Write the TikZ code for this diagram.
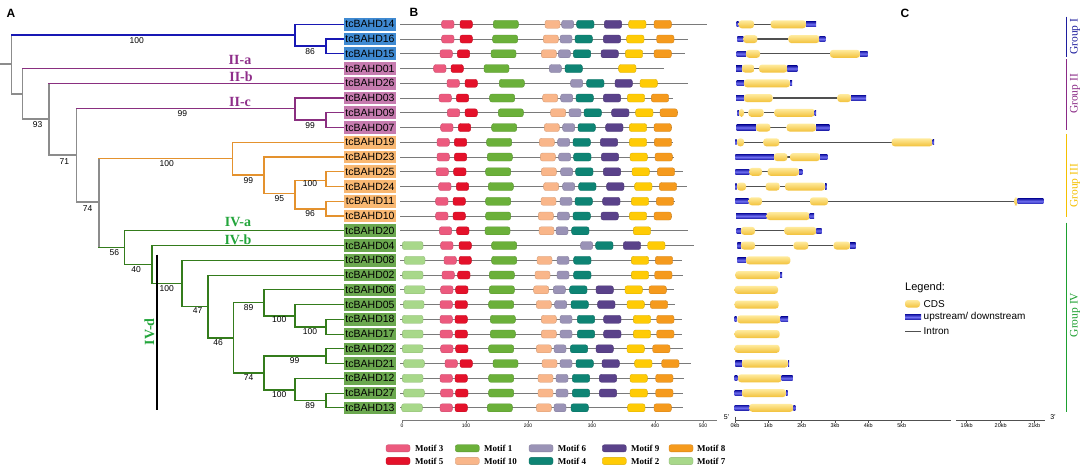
\documentclass[tikz,border=0pt]{standalone}
\usepackage{fontspec}
\setmainfont{Liberation Serif}
\setsansfont{Liberation Sans}
\definecolor{tIc}{HTML}{1818B4}
\definecolor{tIIc}{HTML}{8A2F80}
\definecolor{tIIIc}{HTML}{E4922E}
\definecolor{tIVc}{HTML}{347C1C}
\definecolor{tGc}{HTML}{8C8C8C}
\definecolor{bI}{HTML}{3F8AD2}
\definecolor{bII}{HTML}{C67BAF}
\definecolor{bIII}{HTML}{F9B872}
\definecolor{bIV}{HTML}{6BA84F}
\definecolor{txII}{HTML}{8F2E8A}
\definecolor{txIV}{HTML}{22A53A}
\definecolor{grI}{HTML}{1E1E9E}
\definecolor{grII}{HTML}{8A2A86}
\definecolor{grIII}{HTML}{F5C000}
\definecolor{grIV}{HTML}{1DA030}
\definecolor{cm1}{HTML}{6BB03A}
\definecolor{cm2}{HTML}{FFCB05}
\definecolor{cm3}{HTML}{EC5A7E}
\definecolor{cm4}{HTML}{0E8474}
\definecolor{cm5}{HTML}{E4112A}
\definecolor{cm6}{HTML}{9A93B6}
\definecolor{cm7}{HTML}{A8D88A}
\definecolor{cm8}{HTML}{F59A1D}
\definecolor{cm9}{HTML}{5A428A}
\definecolor{cm10}{HTML}{F9B68A}
\definecolor{cdsT}{HTML}{FFEB9E}
\definecolor{cdsB}{HTML}{F2C13A}
\definecolor{utrD}{HTML}{1B1BA8}
\definecolor{utrL}{HTML}{7070F2}
\definecolor{lineG}{HTML}{7A7A7A}
\definecolor{intG}{HTML}{505050}
\expandafter\def\csname wm1\endcsname{75}
\expandafter\def\csname wm2\endcsname{52}
\expandafter\def\csname wm3\endcsname{37}
\expandafter\def\csname wm4\endcsname{52}
\expandafter\def\csname wm5\endcsname{37}
\expandafter\def\csname wm6\endcsname{36}
\expandafter\def\csname wm7\endcsname{62}
\expandafter\def\csname wm8\endcsname{52}
\expandafter\def\csname wm9\endcsname{52}
\expandafter\def\csname wm10\endcsname{45}
\expandafter\def\csname hgsu\endcsname{2.6}
\expandafter\def\csname hgsc\endcsname{4}
\expandafter\def\csname hgsi\endcsname{0.55}
% motif row: y, line end (zoom units), list style/zoomx
\newcommand\mrow[3]{%
  \draw[mline] (400,#1) -- ({340+#2/3},#1);
  \foreach \s/\x in {#3}{%
    \edef\w{\csname w\s\endcsname}%
    \path[\s] ({340+\x/3},{#1-4}) rectangle ({340+(\x+\w)/3},{#1+4});}%
}
% gene structure row: y, list type/a/b
\newcommand\grow[2]{%
  \foreach \t/\a/\b in {#2}{%
    \edef\h{\csname hgs\t\endcsname}%
    \path[gs\t] ({720+\a/3},{#1-\h}) rectangle ({720+\b/3},{#1+\h});}%
}
\newcommand\hb[3]{\draw[#1] (#2 |- #3) -- (#3);}
\newcommand\vb[4]{\draw[#1] (#2 |- #3) -- (#2 |- #4);}
\begin{document}
\begin{tikzpicture}[x=1pt,y=-1pt,
  br/.style={line width=1.1pt,line cap=rect},
  tI/.style={br,draw=tIc}, tII/.style={br,draw=tIIc}, tIII/.style={br,draw=tIIIc},
  tIV/.style={br,draw=tIVc}, tG/.style={br,draw=tGc},
  lab/.style={font=\sffamily\fontsize{10.5}{12}\selectfont, minimum width=52pt, minimum height=12.6pt, inner sep=0pt},
  gI/.style={lab,fill=bI}, gII/.style={lab,fill=bII}, gIII/.style={lab,fill=bIII}, gIV/.style={lab,fill=bIV},
  bs/.style={font=\sffamily\fontsize{8.5}{10}\selectfont, inner sep=0pt},
  clade/.style={font=\bfseries\fontsize{14}{16}\selectfont, inner sep=0pt},
  grp/.style={font=\fontsize{11.5}{13}\selectfont, inner sep=0pt, rotate=90},
  panel/.style={font=\sffamily\bfseries\fontsize{12}{14}\selectfont, inner sep=0pt},
  mbase/.style={rounded corners=2.2pt, line width=0.35pt},
  m1/.style={mbase,fill=cm1,draw=cm1!85!black}, m2/.style={mbase,fill=cm2,draw=cm2!85!black},
  m3/.style={mbase,fill=cm3,draw=cm3!85!black}, m4/.style={mbase,fill=cm4,draw=cm4!85!black},
  m5/.style={mbase,fill=cm5,draw=cm5!85!black}, m6/.style={mbase,fill=cm6,draw=cm6!85!black},
  m7/.style={mbase,fill=cm7,draw=cm7!85!black}, m8/.style={mbase,fill=cm8,draw=cm8!85!black},
  m9/.style={mbase,fill=cm9,draw=cm9!85!black}, m10/.style={mbase,fill=cm10,draw=cm10!85!black},
  mline/.style={draw=lineG, line width=0.9pt},
  gsc/.style={top color=cdsT, bottom color=cdsB, rounded corners=3pt},
  gsu/.style={top color=utrD, bottom color=utrD, middle color=utrL},
  gsi/.style={fill=intG},
  axis/.style={draw=lineG, line width=1pt},
  tick/.style={font=\sffamily\fontsize{5}{6}\selectfont, inner sep=0pt},
  leg/.style={font=\bfseries\fontsize{9}{10}\selectfont, inner sep=0pt, anchor=west},
  cleg/.style={font=\sffamily\fontsize{10}{12}\selectfont, inner sep=0pt, anchor=west}]
\useasboundingbox (0,0) rectangle (1084,473);
\fill[white] (0,0) rectangle (1084,473);

% ---------- panel letters
\node[panel] (pA) at (11,13) {A};
\node[panel] (pB) at (414,12) {B};
\node[panel] (pC) at (905,13) {C};

% ---------- gene labels
\foreach \n/\i/\g in {14/0/I,16/1/I,15/2/I,01/3/II,26/4/II,03/5/II,09/6/II,07/7/II,
  19/8/III,23/9/III,25/10/III,24/11/III,11/12/III,10/13/III,
  20/14/IV,04/15/IV,08/16/IV,02/17/IV,06/18/IV,05/19/IV,18/20/IV,17/21/IV,
  22/22/IV,21/23/IV,12/24/IV,27/25/IV,13/26/IV}
  \node[g\g] (g\n) at (370,{24.3+14.75*\i}) {tcBAHD\n};

% ---------- internal tree nodes
\coordinate (R0) at (0,64);
\coordinate (R) at (11.7,64);
\coordinate (A1) at (295,35);
\coordinate (A2) at (326,46);
\coordinate (B1) at (22.7,94);
\coordinate (B2) at (49,119);
\coordinate (B3) at (76.5,155);
\coordinate (C1) at (295,108.7);
\coordinate (C2) at (326,120);
\coordinate (B4) at (99,202);
\coordinate (D1) at (232.7,158.7);
\coordinate (D2) at (264,175);
\coordinate (D3) at (295,193.7);
\coordinate (D4) at (326,180.7);
\coordinate (D5) at (326,209);
\coordinate (E1) at (124.7,247.7);
\coordinate (E2) at (152,264.3);
\coordinate (E3) at (182,283.3);
\coordinate (E4) at (208,306.7);
\coordinate (E5) at (233.7,338);
\coordinate (E6) at (264,302.7);
\coordinate (E7) at (295,316);
\coordinate (E8) at (326,327);
\coordinate (E9) at (264,373);
\coordinate (E10) at (326,356);
\coordinate (E11) at (295,390);
\coordinate (E12) at (326,400.3);

% ---------- tree branches
\draw[tG] (R0) -- (R);
\vb{tG}{R}{A1}{B1}
\hb{tI}{R}{A1} \hb{tG}{R}{B1}
\vb{tI}{A1}{g14}{A2} \hb{tI}{A1}{g14} \hb{tI}{A1}{A2}
\vb{tI}{A2}{g16}{g15} \hb{tI}{A2}{g16} \hb{tI}{A2}{g15}
\vb{tG}{B1}{g01}{B2} \hb{tII}{B1}{g01} \hb{tG}{B1}{B2}
\vb{tG}{B2}{g26}{B3} \hb{tII}{B2}{g26} \hb{tG}{B2}{B3}
\vb{tG}{B3}{C1}{B4} \hb{tII}{B3}{C1} \hb{tG}{B3}{B4}
\vb{tII}{C1}{g03}{C2} \hb{tII}{C1}{g03} \hb{tII}{C1}{C2}
\vb{tII}{C2}{g09}{g07} \hb{tII}{C2}{g09} \hb{tII}{C2}{g07}
\vb{tG}{B4}{D1}{E1} \hb{tIII}{B4}{D1} \hb{tIV}{B4}{E1}
\vb{tIII}{D1}{g19}{D2} \hb{tIII}{D1}{g19} \hb{tIII}{D1}{D2}
\vb{tIII}{D2}{g23}{D3} \hb{tIII}{D2}{g23} \hb{tIII}{D2}{D3}
\vb{tIII}{D3}{D4}{D5} \hb{tIII}{D3}{D4} \hb{tIII}{D3}{D5}
\vb{tIII}{D4}{g25}{g24} \hb{tIII}{D4}{g25} \hb{tIII}{D4}{g24}
\vb{tIII}{D5}{g11}{g10} \hb{tIII}{D5}{g11} \hb{tIII}{D5}{g10}
\vb{tIV}{E1}{g20}{E2} \hb{tIV}{E1}{g20} \hb{tIV}{E1}{E2}
\vb{tIV}{E2}{g04}{E3} \hb{tIV}{E2}{g04} \hb{tIV}{E2}{E3}
\vb{tIV}{E3}{g08}{E4} \hb{tIV}{E3}{g08} \hb{tIV}{E3}{E4}
\vb{tIV}{E4}{g02}{E5} \hb{tIV}{E4}{g02} \hb{tIV}{E4}{E5}
\vb{tIV}{E5}{E6}{E9} \hb{tIV}{E5}{E6} \hb{tIV}{E5}{E9}
\vb{tIV}{E6}{g06}{E7} \hb{tIV}{E6}{g06} \hb{tIV}{E6}{E7}
\vb{tIV}{E7}{g05}{E8} \hb{tIV}{E7}{g05} \hb{tIV}{E7}{E8}
\vb{tIV}{E8}{g18}{g17} \hb{tIV}{E8}{g18} \hb{tIV}{E8}{g17}
\vb{tIV}{E9}{E10}{E11} \hb{tIV}{E9}{E10} \hb{tIV}{E9}{E11}
\vb{tIV}{E10}{g22}{g21} \hb{tIV}{E10}{g22} \hb{tIV}{E10}{g21}
\vb{tIV}{E11}{g12}{E12} \hb{tIV}{E11}{g12} \hb{tIV}{E11}{E12}
\vb{tIV}{E12}{g27}{g13} \hb{tIV}{E12}{g27} \hb{tIV}{E12}{g13}

% ---------- bootstrap values
\foreach \x/\y/\v in {136.7/40.3/100, 310/51.7/86, 37.7/124.7/93, 182.3/113.7/99,
  310/125.3/99, 64.3/161.3/71, 166.7/163.3/100, 248.3/180.3/99, 310/184/100,
  279.3/199/95, 310/213.3/96, 87.7/208.7/74, 114.3/252.7/56, 136/269.3/40,
  166.7/288.3/100, 197.7/311/47, 248.7/307.7/89, 279.3/320/100, 310/331.7/100,
  218/342.7/46, 294.7/361/99, 248.7/377.7/74, 279.3/394.3/100, 310/405.3/89}
  \node[bs] at (\x,\y) {\v};

% ---------- clade labels
\node[clade,text=txII] (la) at (240,59.5) {II-a};
\node[clade,text=txII] (lb) at (241,77) {II-b};
\node[clade,text=txII] (lc) at (240,101.7) {II-c};
\node[clade,text=txIV] (la4) at (238,221.7) {IV-a};
\node[clade,text=txIV] (lb4) at (238,239.3) {IV-b};
\node[clade,text=txIV,rotate=90] (ld4) at (149.3,331.7) {IV-d};
\coordinate (dT) at (157,254.7);
\coordinate (dB) at (157,409.7);
\draw[line width=1.2pt] (dT) -- (dB);

% ---------- panel B motifs
\mrow{24.3}{1100}{m3/305,m5/360,m1/460,m10/615,m6/665,m4/710,m9/793,m2/866,m8/942}
\mrow{39.05}{1043}{m3/305,m5/360,m1/458,m10/610,m6/660,m4/705,m9/790,m2/860,m8/950}
\mrow{53.8}{1035}{m3/300,m5/352,m1/453,m10/604,m6/655,m4/700,m9/783,m2/856,m8/942}
\mrow{68.55}{973}{m3/281,m5/333,m1/432,m6/628,m4/675,m2/836}
\mrow{83.3}{1043}{m3/321,m5/375,m1/478,m6/692,m4/740,m9/825,m2/900}
\mrow{98.05}{1000}{m3/297,m5/349,m1/449,m10/608,m6/662,m4/708,m9/790,m2/862,m8/934}
\mrow{112.8}{1015}{m3/322,m5/375,m1/475,m10/632,m6/687,m4/732,m9/815,m2/887,m8/960}
\mrow{127.55}{997}{m3/302,m5/355,m1/455,m10/613,m6/668,m4/714,m9/797,m2/868,m8/942}
\mrow{142.3}{1000}{m3/291,m5/343,m1/440,m10/598,m6/653,m4/699,m9/781,m2/868,m8/943}
\mrow{157.05}{1003}{m3/291,m5/343,m1/442,m10/601,m6/656,m4/701,m9/784,m2/870,m8/945}
\mrow{171.8}{1030}{m3/288,m5/341,m1/437,m10/604,m6/662,m4/707,m9/790,m2/876,m8/952}
\mrow{186.55}{1040}{m3/296,m5/349,m1/445,m10/611,m6/668,m4/716,m9/800,m2/884,m8/958}
\mrow{201.3}{1005}{m3/287,m5/339,m1/437,m10/603,m6/660,m4/705,m9/788,m2/874,m8/949}
\mrow{216.05}{995}{m3/287,m5/339,m1/437,m10/595,m6/652,m4/699,m9/783,m2/868,m8/942}
\mrow{230.8}{1045}{m3/298,m5/350,m1/435,m10/597,m6/648,m4/695,m2/880}
\mrow{245.55}{1062}{m7/187,m3/302,m5/357,m1/455,m6/722,m4/767,m9/850,m2/923}
\mrow{260.3}{1025}{m7/193,m3/312,m5/357,m1/455,m10/591,m6/651,m4/701,m2/874,m8/946}
\mrow{275.05}{1028}{m7/187,m3/306,m5/353,m1/448,m10/585,m6/651,m4/701,m2/874,m8/944}
\mrow{289.8}{1003}{m7/193,m3/302,m5/347,m1/448,m10/581,m6/640,m4/689,m9/768,m2/855,m8/927}
\mrow{304.55}{1006}{m7/190,m3/300,m5/345,m1/446,m10/589,m6/644,m4/693,m9/773,m2/861,m8/931}
\mrow{319.3}{1025}{m7/187,m3/300,m5/345,m1/451,m10/604,m6/660,m4/712,m9/791,m2/880,m8/950}
\mrow{334.05}{1025}{m7/187,m3/300,m5/345,m1/451,m10/604,m6/660,m4/712,m9/791,m2/880,m8/950}
\mrow{348.8}{1030}{m7/187,m3/302,m5/347,m1/446,m10/589,m6/642,m4/691,m9/768,m2/861,m8/938}
\mrow{363.55}{1053}{m7/191,m3/315,m5/360,m1/459,m10/606,m6/660,m4/708,m9/786,m2/884,m8/965}
\mrow{378.3}{1033}{m7/187,m3/300,m5/345,m1/446,m10/594,m6/648,m4/697,m9/778,m2/870,m8/947}
\mrow{393.05}{1030}{m7/191,m3/302,m5/347,m1/446,m10/594,m6/648,m4/697,m9/778,m2/870,m8/947}
\mrow{407.8}{1030}{m7/185,m3/300,m5/345,m1/442,m10/589,m6/642,m4/693,m2/863,m8/942}

% panel B axis
\draw[axis] (402,420) -- (717,420);
\foreach \x/\l in {402/0,466/100,528/200,592/300,655/400,703/500}{
  \draw[axis,line width=0.6pt] (\x,420) -- (\x,422.5);
  \node[tick] at (\x,426) {\l};}

% motif legend
\foreach \s/\bx/\tx/\yy/\lab in {m3/386/415/448.3/Motif 3, m1/455.3/484/448.3/Motif 1,
  m6/529/557.7/448.3/Motif 6, m9/602.3/631/448.3/Motif 9, m8/669/697/448.3/Motif 8,
  m5/386/415/461/Motif 5, m10/455.3/484/461/Motif 10, m4/529/557.7/461/Motif 4,
  m2/602.3/631/461/Motif 2, m7/669/697/461/Motif 7}{
  \path[\s] (\bx,{\yy-3.6}) rectangle ({\bx+24},{\yy+3.6});
  \node[leg] at (\tx,\yy) {\lab};}

% ---------- panel C gene structures
\grow{24.3}{i/102/152, u/50/56, c/56/102, c/152/258, u/258/288}
\grow{39.05}{i/112/205, u/52/70, c/70/112, c/205/298, u/298/316}
\grow{53.8}{i/120/330, u/50/78, c/78/120, c/330/420, u/420/443}
\grow{68.55}{i/103/117, u/48/66, c/66/103, c/117/202, u/202/232}
\grow{83.3}{u/50/72, c/72/210, u/210/216}
\grow{98.05}{i/158/352, u/48/72, c/72/158, c/352/393, u/393/438}
\grow{112.8}{i/72/85, i/131/163, u/52/57, c/57/72, c/85/131, c/163/284, u/284/288}
\grow{127.55}{i/151/200, u/50/108, c/108/151, c/200/288, u/288/328}
\grow{142.3}{i/72/130, i/178/515, u/46/50, c/51/72, c/130/178, c/515/638, u/638/642}
\grow{157.05}{i/202/210, u/46/162, c/162/202, c/210/300, u/300/322}
\grow{171.8}{i/126/143, u/46/88, c/88/126, c/143/237, u/237/247}
\grow{186.55}{i/78/137, i/179/195, u/46/50, c/51/78, c/137/179, c/195/315, u/315/320}
\grow{201.3}{i/126/270, i/324/882, u/46/86, c/86/126, c/270/324, c/882/893, u/893/970}
\grow{216.05}{u/48/140, c/140/269, u/269/282}
\grow{230.8}{i/105/193, u/50/63, c/63/105, c/193/289, u/289/305}
\grow{245.55}{i/105/221, i/265/341, u/52/63, c/63/105, c/221/265, c/341/390, u/390/407}
\grow{260.3}{u/52/78, c/78/211}
\grow{275.05}{c/46/180, u/180/186}
\grow{289.8}{c/44/174}
\grow{304.55}{c/44/176}
\grow{319.3}{u/44/50, c/52/182, u/182/204}
\grow{334.05}{c/44/179}
\grow{348.8}{c/44/179}
\grow{363.55}{u/46/66, c/66/204, u/204/207}
\grow{378.3}{u/44/52, c/54/185, u/185/218}
\grow{393.05}{u/44/66, c/66/198, u/198/203}
\grow{407.8}{u/44/88, c/88/220, u/220/226}

% panel C axis
\draw[axis,draw=intG] (735,420) -- (951,420);
\draw[axis,draw=intG] (956,420) -- (1045,420);
\draw[axis,draw=intG,line width=0.7pt] (735,416.5) -- (735,420);
\foreach \x/\l in {735/0kb,768.3/1kb,801.7/2kb,835/3kb,868.3/4kb,901.7/5kb,966.7/19kb,1000.7/20kb,1034.3/21kb}{
  \draw[axis,draw=intG,line width=0.6pt] (\x,420) -- (\x,422.5);
  \node[tick,font=\sffamily\fontsize{5.5}{6}\selectfont] at (\x,426) {\l};}
\node[tick,font=\sffamily\fontsize{7}{8}\selectfont] (p5) at (726.5,417) {5'};
\node[tick,font=\sffamily\fontsize{7}{8}\selectfont] (p3) at (1053,417) {3'};

% panel C legend
\node[cleg,font=\sffamily\fontsize{11}{13}\selectfont] (lg) at (905,288) {Legend:};
\path[gsc] (905,300) rectangle (920,307.6);
\node[cleg] (lcds) at (923.5,304) {CDS};
\path[gsu] (905,314.4) rectangle (921,319.6);
\node[cleg] (lutr) at (923.5,317) {upstream/ downstream};
\draw[draw=intG,line width=1pt] (905,331) -- (921,331);
\node[cleg] (lint) at (923.5,331) {Intron};

% ---------- group bars
\draw[line width=1.3pt,grI] (1066.5,16.7) -- (1066.5,56.7);
\node[grp,text=grI] (GI) at (1075,36.7) {Group I};
\draw[line width=1.3pt,grII] (1066.5,59.3) -- (1066.5,130);
\node[grp,text=grII] (GII) at (1075,94) {Group II};
\draw[line width=1.3pt,grIII] (1066.5,134) -- (1066.5,217);
\node[grp,text=grIII] (GIII) at (1075,186) {Group III};
\draw[line width=1.3pt,grIV] (1066.5,222.7) -- (1066.5,411.7);
\node[grp,text=grIV] (GIV) at (1075,315) {Group IV};
\end{tikzpicture}
\end{document}
